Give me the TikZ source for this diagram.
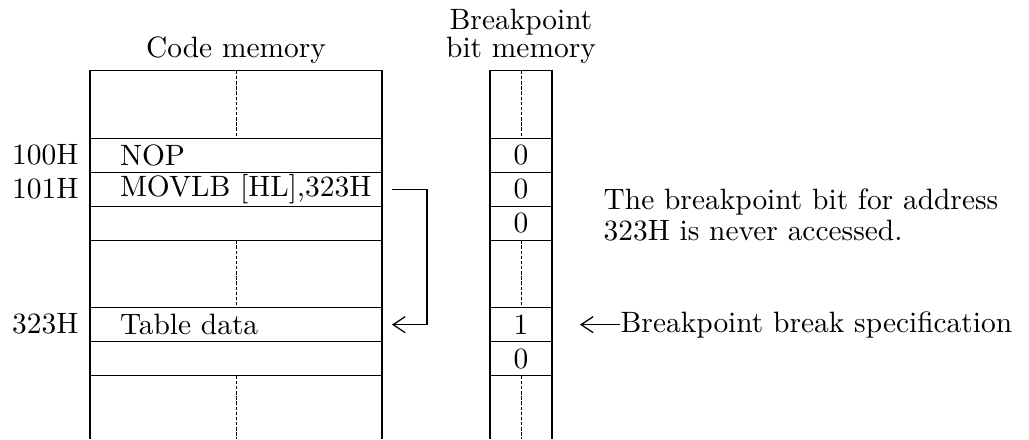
\documentclass[tikz,border=0pt]{standalone}
\usepackage{tikz}
\usetikzlibrary{arrows.meta,positioning}

\begin{document}
\begin{tikzpicture}[
  x=0.35pt,y=-0.35pt,
  >={Straight Barb[length=4.2pt,width=5.6pt]},
  line width=0.45pt,
  every node/.style={font=\fontsize{10.3}{10.9}\selectfont},
  codecell/.style={
    draw,outer sep=0pt,inner sep=0pt,
    minimum height=11.9pt,text width=102.2pt,align=left,
    execute at begin node={\hspace*{10.5pt}}
  },
  codegap/.style={
    codecell,minimum height=23.6pt
  },
  bitcell/.style={
    draw,outer sep=0pt,inner sep=0pt,
    minimum width=21.7pt,minimum height=11.9pt,align=center
  },
  bitgap/.style={
    bitcell,minimum height=23.6pt
  },
  gapline/.style={dashed,line width=0.3pt,dash pattern=on 1.2pt off 0.6pt},
  addr/.style={anchor=east,inner sep=0pt},
  title/.style={align=center,inner sep=0pt,
    font=\fontsize{10.3}{9.8}\selectfont}
]
\useasboundingbox (0,0) rectangle (1029,439);

% ---- code memory column ----
\node[codegap] (cgapA) at (236,104.5) {};
\node[codecell,below=0pt of cgapA] (c100) {NOP};
\node[codecell,below=0pt of c100] (c101) {MOVLB [HL],323H};
\node[codecell,below=0pt of c101] (c102) {};
\node[codegap,below=0pt of c102] (cgapB) {};
\node[codecell,below=0pt of cgapB] (c323) {Table data};
\node[codecell,below=0pt of c323] (c324) {};

\draw (c324.south west) -- (c324.south west |- 0,439);
\draw (c324.south east) -- (c324.south east |- 0,439);

\draw[gapline] (cgapA.north) -- (cgapA.south);
\draw[gapline] (cgapB.north) -- (cgapB.south);
\draw[gapline] (c324.south) -- (c324.south |- 0,439);

\node[title] (codetitle) at (236,50) {Code memory};

% ---- addresses ----
\node[addr] (a100) at (79,155) {100H};
\node[addr] (a101) at (79,189) {101H};
\node[addr] (a323) at (79,324) {323H};

% ---- breakpoint bit memory column ----
\node[bitgap] (bgapA) at (521,104.5) {};
\node[bitcell,below=0pt of bgapA] (b100) {0};
\node[bitcell,below=0pt of b100] (b101) {0};
\node[bitcell,below=0pt of b101] (b102) {0};
\node[bitgap,below=0pt of b102] (bgapB) {};
\node[bitcell,below=0pt of bgapB] (b323) {1};
\node[bitcell,below=0pt of b323] (b324) {0};

\draw (b324.south west) -- (b324.south west |- 0,439);
\draw (b324.south east) -- (b324.south east |- 0,439);

\draw[gapline] (bgapA.north) -- (bgapA.south);
\draw[gapline] (bgapB.north) -- (bgapB.south);
\draw[gapline] (b324.south) -- (b324.south |- 0,439);

\node[title] (bittitle) at (521,36) {Breakpoint\\bit memory};

% ---- table access by MOVLB ----
\draw[->]
  ([xshift=3.5pt]c101.east) -- ++(35,0) |- ([xshift=3.5pt]c323.east);

% ---- notes ----
\node[anchor=west,align=left,inner sep=0pt] (note) at (603,215)
  {The breakpoint bit for address\\323H is never accessed.};

\coordinate (tip) at ([xshift=9.8pt]b323.east);
\node[right=14pt of tip,inner sep=0pt] (spec) {Breakpoint break specification};
\draw[->] (spec) -- (tip);

\end{tikzpicture}
\end{document}
